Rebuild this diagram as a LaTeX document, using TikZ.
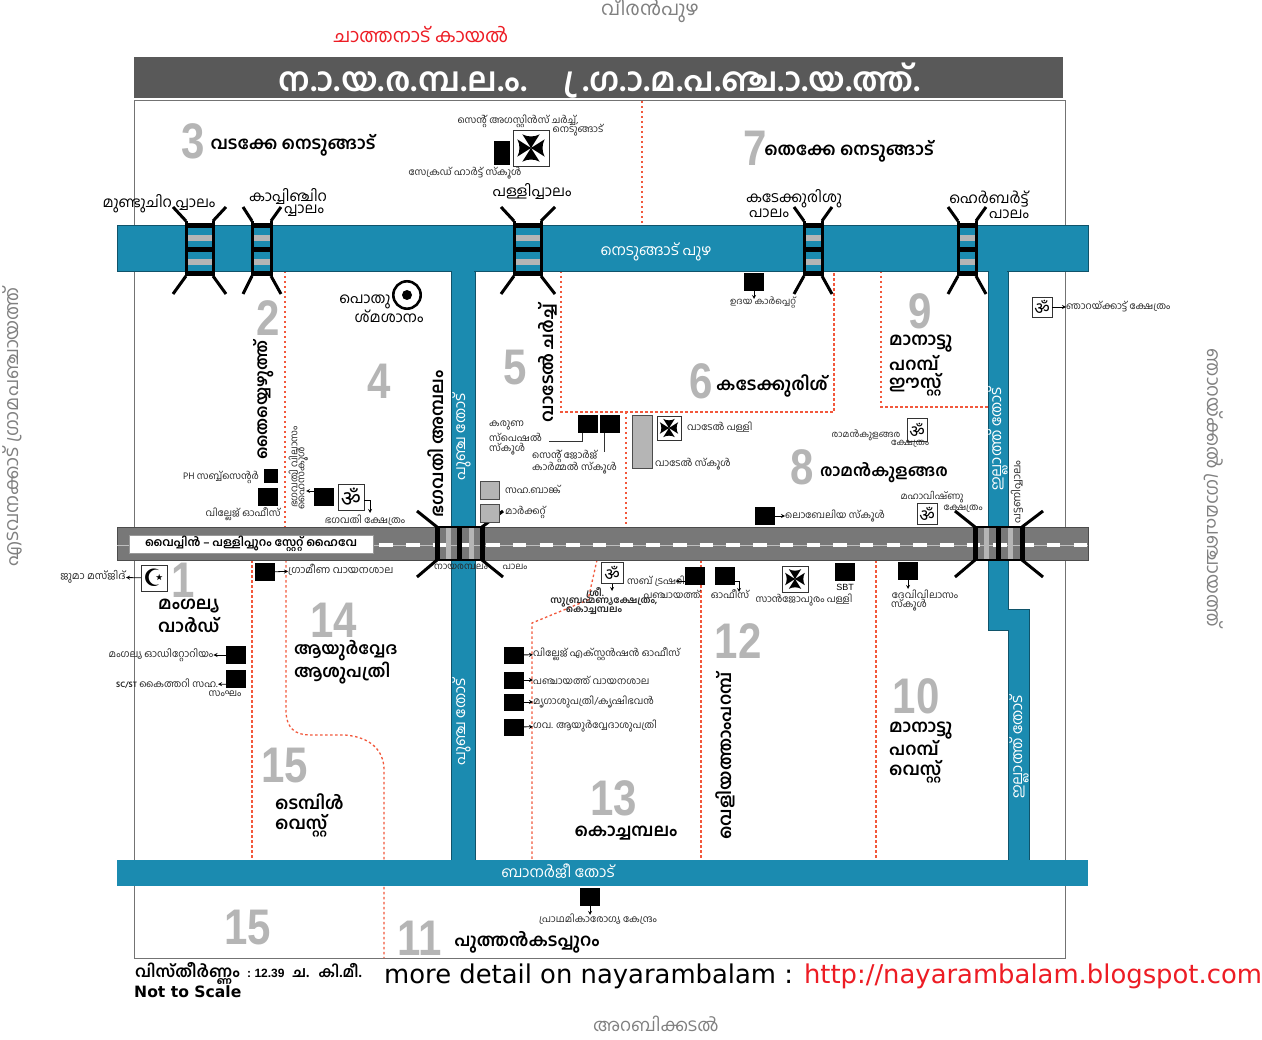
\documentclass[tikz,border=0pt]{standalone}
\usepackage{fontspec}
\newfontfamily\mlfont[Script=Malayalam]{Hind Kochi}
\newfontfamily\omfont[Script=Devanagari]{Noto Sans}
\newfontfamily\djfont{DejaVu Sans}
\newfontfamily\numfont[FakeStretch=0.84]{Liberation Sans}
\newfontfamily\latfont{Liberation Sans}
\newcommand\nbm[1]{\kern-.25em\char"00A0 #1}
\definecolor{creek}{HTML}{1B8BB0}
\definecolor{titlegray}{HTML}{595959}
\definecolor{numgray}{HTML}{B5B5B5}
\definecolor{roadgray}{HTML}{787878}
\definecolor{dotred}{HTML}{F2583C}
\definecolor{redtext}{HTML}{ED1C24}
\tikzset{
  lab/.style={font=\mlfont\fontsize{9.7}{12}\selectfont, inner sep=0pt, text=black!85},
  tiny/.style={font=\mlfont\fontsize{9.8}{11}\selectfont, inner sep=0pt, text=black!85},
  sbold/.style={font=\mlfont\bfseries\fontsize{9.5}{11}\selectfont, inner sep=0pt, text=black!85},
  brlab/.style={font=\mlfont\fontsize{14.7}{17}\selectfont, inner sep=0pt},
  ward/.style={font=\mlfont\bfseries\fontsize{17.4}{20}\selectfont, inner sep=0pt},
  wnum/.style={font=\numfont\bfseries\fontsize{50}{50}\selectfont, inner sep=0pt, text=numgray},
  wlab/.style={font=\mlfont\fontsize{15}{16}\selectfont, inner sep=0pt, text=white},
  far/.style={font=\mlfont\fontsize{18.7}{20}\selectfont, inner sep=0pt, text=gray},
  blk/.style={fill=black, inner sep=0pt, minimum width=20pt, minimum height=18pt},
  gbox/.style={fill=numgray, draw=black!70, inner sep=0pt, minimum width=19pt, minimum height=18pt},
  icon/.style={draw=black!80, fill=white, inner sep=0pt, minimum size=24pt},
  omsign/.style={icon, font=\omfont\fontsize{22}{22}\selectfont},
  omsmall/.style={icon, minimum size=20pt, font=\omfont\fontsize{17}{17}\selectfont},
  crosssign/.style={icon, minimum size=#1pt, path picture={
    \fill[black, shift={(path picture bounding box.center)}]
      (0,0) -- ({-.24*#1},{-.38*#1}) .. controls ({-.1*#1},{-.3*#1}) and ({.1*#1},{-.3*#1}) .. ({.24*#1},{-.38*#1}) -- cycle
      (0,0) -- ({-.24*#1},{.38*#1}) .. controls ({-.1*#1},{.3*#1}) and ({.1*#1},{.3*#1}) .. ({.24*#1},{.38*#1}) -- cycle
      (0,0) -- ({-.38*#1},{-.24*#1}) .. controls ({-.3*#1},{-.1*#1}) and ({-.3*#1},{.1*#1}) .. ({-.38*#1},{.24*#1}) -- cycle
      (0,0) -- ({.38*#1},{-.24*#1}) .. controls ({.3*#1},{-.1*#1}) and ({.3*#1},{.1*#1}) .. ({.38*#1},{.24*#1}) -- cycle;
    }},
  arw/.style={-stealth, thick},
  dotline/.style={dotred, line width=1.3pt, dash pattern=on 2.5pt off 2.5pt},
  brg/.style={line width=3pt, black},
}
\begin{document}
\begin{tikzpicture}[x=1pt, y=-1pt]
\useasboundingbox (0,0) rectangle (1262,1040);
\fill[white] (0,0) rectangle (1262,1040);
\node[far, font=\mlfont\fontsize{19.5}{20}\selectfont] (veeran) at (650,10) {വീരൻപുഴ};
\node[font=\mlfont\fontsize{19}{20}\selectfont, text=redtext, inner sep=0pt] (chathanad) at (421,35) {ചാത്തനാട് കായൽ};
\node[far, font=\mlfont\fontsize{17.5}{20}\selectfont] (arabi) at (656,1024) {അറബിക്കടൽ};
\node[far, rotate=90] (edavanakkad) at (12,427) {എടവനക്കാട് ഗ്രാമപഞ്ചായത്ത്};
\node[far, rotate=-90, font=\mlfont\fontsize{18.5}{20}\selectfont] (njarakkal) at (1214,488) {ഞാറയ്ക്കൽ ഗ്രാമപഞ്ചായത്ത്};

\fill[titlegray] (134,57) rectangle (1063,98);
\node[font=\mlfont\bfseries\fontsize{33}{36}\selectfont, text=white, inner sep=0pt] (title) at (600,81) {ന.\nbm{ാ}.യ.ര.മ്പ.ല.\nbm{ം}.\hspace{44pt}\nbm{്ര}.ഗ.\nbm{ാ}.മ.പ.ഞ്ച.\nbm{ാ}.യ.ത്ത്.};
\draw[black!55, line width=1pt] (134,101) rectangle (1065,958);

\draw[dotline] (642,101) -- (642,225);
\draw[dotline] (285,271) -- (285,527);
\draw[dotline] (561,271) -- (561,412) -- (834,412) -- (834,271);
\draw[dotline] (626,412) -- (626,527);
\draw[dotline] (881,271) -- (881,407) -- (988,407);
\draw[dotline] (597,560) -- (588,600) -- (532,623) -- (532,860);
\draw[dotline] (701,560) -- (701,860);
\draw[dotline] (876,560) -- (876,860);
\draw[dotline] (252,560) -- (252,860);
\draw[dotline] (286,560) -- (286,710) .. controls (286,728) and (295,735) .. (310,735) -- (345,735) .. controls (370,737) and (384,750) .. (384,770) -- (384,958);

\draw[creek!60!black, fill=creek, line width=0.6pt] (117,225) rectangle (1088,271);
\draw[creek!60!black, fill=creek, line width=0.6pt] (451,271) rectangle (475,860);
\draw[creek!60!black, fill=creek, line width=0.6pt] (988,271) -- (1008,271) -- (1008,609) -- (1029,609) -- (1029,860) -- (1008,860) -- (1008,630) -- (988,630) -- cycle;
\fill[creek] (117,860) rectangle (1088,886);
\fill[creek] (452,265) rectangle (474,275);
\fill[creek] (989,265) rectangle (1007,275);

\draw[black!70, fill=roadgray, line width=0.6pt] (117,527) rectangle (1088,560);
\draw[gray!50, line width=0.5pt] (117,545) -- (1088,545);
\draw[white, line width=3.5pt, dash pattern=on 13.5pt off 13.2pt] (139,545) -- (1088,545);

\foreach \xa/\xb/\la/\lb in {186/213/173/226, 252/271/243/281, 514/541/501/555, 804/822/794/832, 958/976/948/986} {
  \fill[numgray] (\xa,235) rectangle (\xb,241);
  \fill[numgray] (\xa,259) rectangle (\xb,265);
  \draw[brg] (\xa,221) -- (\xa,276);
  \draw[brg] (\xb,221) -- (\xb,276);
  \draw[black, line width=5pt] (\xa,226) -- (\xb,226);
  \draw[black, line width=5pt] (\xa,250) -- (\xb,250);
  \draw[black, line width=5pt] (\xa,273.5) -- (\xb,273.5);
  \draw[brg] (\xa,221) -- (\la,207);
  \draw[brg] (\xb,221) -- (\lb,207);
  \draw[brg] (\xa,276) -- (\la,294);
  \draw[brg] (\xb,276) -- (\lb,294);
}
\foreach \xa/\xb/\xc/\la/\lb in {437/459.5/482/417/503, 975/998.5/1022/955/1043} {
  \fill[numgray] ({\xa+9},528) rectangle ({\xa+14},559);
  \fill[numgray] ({\xb+9},528) rectangle ({\xb+14},559);
  \draw[black, line width=5pt] (\xa,527) -- (\xa,560);
  \draw[black, line width=5pt] (\xb,527) -- (\xb,560);
  \draw[black, line width=5pt] (\xc,527) -- (\xc,560);
  \draw[black, line width=1.5pt] (\xa,527) -- (\xc,527);
  \draw[black, line width=1.5pt] (\xa,560) -- (\xc,560);
  \draw[brg] (\xa,527) -- (\la,511);
  \draw[brg] (\xc,527) -- (\lb,511);
  \draw[brg] (\xa,560) -- (\la,577);
  \draw[brg] (\xc,560) -- (\lb,577);
}

\node[fill=white, draw=black!40, inner sep=0pt, minimum width=244pt, minimum height=18pt, font=\mlfont\bfseries\fontsize{11.5}{13}\selectfont] (highway) at (251,544) {വൈപ്പിൻ – പള്ളിപ്പുറം സ്റ്റേറ്റ് ഹൈവേ};

\node[wnum] (n3) at (193,141) {3};
\node[ward] (vadakke) at (293,145) {വടക്കേ നെടുങ്ങാട്};
\node[wnum] (n7) at (755,148) {7};
\node[ward] (thekke) at (849,151) {തെക്കേ നെടുങ്ങാട്};
\node[wnum] (n2) at (268,318) {2};
\node[ward, rotate=90, font=\mlfont\bfseries\fontsize{16.2}{20}\selectfont] (thai) at (264,400) {തൈയ്യെഴുത്ത്};
\node[wnum] (n4) at (379,381) {4};
\node[ward, rotate=90] (bhagavathi) at (436,444) {ഭഗവതി അമ്പലം};
\node[wnum] (n5) at (515,368) {5};
\node[ward, rotate=90] (vadel) at (548,363) {വാടേൽ ചർച്ച്};
\node[wnum] (n6) at (701,381) {6};
\node[ward] (kadekkurish) at (772,386) {കടേക്കുരിശ്};
\node[wnum] (n9) at (920,311) {9};
\node[ward, anchor=west] (mana) at (889,344) {മാനാട്ടു};
\node[ward, anchor=west] (parb) at (889,363) {പറമ്പ്};
\node[ward, anchor=west] (east) at (889,385) {ഈസ്റ്റ്};
\node[wnum] (n8) at (802,467) {8};
\node[ward, font=\mlfont\bfseries\fontsize{16.2}{20}\selectfont] (raman) at (884,473) {രാമൻകുളങ്ങര};
\node[wnum] (n1) at (183,580) {1};
\node[ward, anchor=west] (mangalya) at (158,606) {മംഗല്യ};
\node[ward, anchor=west] (ward) at (158,625) {വാർഡ്};
\node[wnum] (n14) at (334,620) {14};
\node[ward, anchor=west, font=\mlfont\bfseries\fontsize{16.4}{20}\selectfont] (ayur) at (294,651) {ആയുർവ്വേദ};
\node[ward, anchor=west, font=\mlfont\bfseries\fontsize{17}{20}\selectfont] (ashu) at (294,673) {ആശുപത്രി};
\node[wnum] (n15a) at (285,766) {15};
\node[ward, anchor=west] (temple) at (275,802) {ടെമ്പിൾ};
\node[ward, anchor=west] (west) at (275,826) {വെസ്റ്റ്};
\node[wnum] (n12) at (738,641) {12};
\node[ward, rotate=90] (veliyath) at (725,756) {വെളിയത്താംപറമ്പ്};
\node[wnum] (n13) at (614,798) {13};
\node[ward] (kochamb) at (626,833) {കൊച്ചമ്പലം};
\node[wnum] (n10) at (916,696) {10};
\node[ward, anchor=west] (manaw) at (889,731) {മാനാട്ടു};
\node[ward, anchor=west] (parbw) at (889,748) {പറമ്പ്};
\node[ward, anchor=west] (westw) at (889,772) {വെസ്റ്റ്};
\node[wnum] (n15b) at (248,928) {15};
\node[wnum] (n11) at (420,938) {11};
\node[ward] (puthan) at (527,942) {പുത്തൻകടപ്പുറം};

\node[brlab] (mundu) at (159,204) {മുണ്ടുചിറ പ്പാലം};
\node[brlab] (kappi) at (288,196) {കാപ്പിഞ്ചിറ};
\node[brlab] (kappib) at (304,211) {പ്പാലം};
\node[brlab] (palli) at (532,191) {പള്ളിപ്പാലം};
\node[brlab] (kadek) at (794,199) {കടേക്കുരിശു};
\node[brlab] (kadekb) at (769,213) {പാലം};
\node[brlab] (herb) at (989,199) {ഹെർബർട്ട്};
\node[brlab] (herbb) at (1009,214) {പാലം};
\node[wlab] (nedu) at (656,252) {നെടുങ്ങാട് പുഴ};
\node[wlab] (banerji) at (558,871) {ബാനർജീ തോട്};
\node[wlab, rotate=90] (punja) at (462,437) {പുഞ്ച തോട്};
\node[wlab, rotate=90] (punjab) at (462,722) {പുഞ്ച തോട്};
\node[wlab, rotate=90] (illath) at (998,439) {ഇല്ലാത്ത് തോട്};
\node[wlab, rotate=90] (illathb) at (1019,747) {ഇല്ലാത്ത് തോട്};

\node[crosssign=36] (augcross) at (531,148) {};
\node[blk, minimum width=16pt, minimum height=24pt] (sacred) at (502,153) {};
\node[lab] (aug) at (518,121) {സെന്റ് അഗസ്റ്റിൻസ് ചർച്ച്,};
\node[lab] (augb) at (578,130) {നെടുങ്ങാട്};
\node[lab] (sacredl) at (465,173) {സേക്രഡ് ഹാർട്ട് സ്കൂൾ};

\node[blk] (udaya) at (754,282) {};
\node[tiny, font=\mlfont\fontsize{9}{11}\selectfont] (udayal) at (763,303) {ഉദയ കാർപ്പെറ്റ്};
\draw[arw] (udaya) -- (754,299);
\node[omsmall] (omnjara) at (1042,307) {ॐ};
\node[lab, anchor=west] (njaral) at (1066,307) {ഞാറയ്ക്കാട്ട് ക്ഷേത്രം};
\draw[arw] (omnjara) -- (njaral);

\draw[line width=2.6pt] (407,295) circle (13.7);
\fill (407,295) circle (5);
\node[brlab] (pothu) at (365,302) {പൊതു};
\node[brlab] (shma) at (389,316) {ശ്മശാനം};

\node[blk] (karuna) at (588,424) {};
\node[blk] (george) at (610,424) {};
\node[lab, anchor=west] (karunaa) at (489,425) {കരുണ};
\node[lab, anchor=west] (karunab) at (489,437) {സ്പെഷൽ};
\node[lab, anchor=west] (karunac) at (489,449) {സ്കൂൾ};
\coordinate (karunaend) at (549,441);
\draw[thick, black!80] (karuna.south west) ++(5,0) |- (karunaend);
\node[lab, anchor=west] (georgea) at (532,456) {സെന്റ് ജോർജ്};
\node[lab, anchor=west] (georgeb) at (532,468) {കാർമ്മൽ സ്കൂൾ};
\draw[thick, black!80] (george.south west) ++(5,0) -- ++(0,19);

\node[gbox, minimum width=20pt, minimum height=53pt] (vadsch) at (642,442) {};
\node[crosssign=24] (vadcross) at (669,428) {};
\node[lab, anchor=west] (vadchurch) at (687,427) {വാടേൽ പള്ളി};
\node[lab, anchor=west] (vadschl) at (655,464) {വാടേൽ സ്കൂൾ};

\node[gbox] (bank) at (490,490) {};
\node[gbox] (market) at (490,513) {};
\node[lab, anchor=west] (bankl) at (505,489) {സഹ.ബാങ്ക്};
\node[lab, anchor=west] (marketl) at (505,512) {മാർക്കറ്റ്};

\node[omsmall, minimum height=23pt] (omraman) at (917,430) {ॐ};
\node[tiny, font=\mlfont\fontsize{9}{11}\selectfont] (ramanl) at (866,435) {രാമൻകുളങ്ങര};
\node[tiny, font=\mlfont\fontsize{9}{11}\selectfont] (ramank) at (910,444) {ക്ഷേത്രം};
\node[tiny, font=\mlfont\fontsize{9.3}{11}\selectfont] (maha) at (932,497) {മഹാവിഷ്ണു};
\node[omsmall, minimum height=21pt] (ommaha) at (927,514) {ॐ};
\node[tiny, font=\mlfont\fontsize{9.3}{11}\selectfont] (mahak) at (963,509) {ക്ഷേത്രം};
\node[blk] (lobelia) at (765,516) {};
\node[lab, anchor=west] (lobelial) at (785,516) {ലൊബേലിയ സ്കൂൾ};
\draw[arw] (lobelia) -- (lobelial);
\node[tiny, rotate=90, font=\mlfont\fontsize{10.8}{12}\selectfont] (pattani) at (1017,492) {പട്ടണിപ്പാലം};

\node[blk, minimum width=14pt, minimum height=14pt] (ph) at (271,476) {};
\node[blk] (village) at (268,497) {};
\node[lab] (phl) at (221,477) {PH സബ്ബ്സെന്റർ};
\node[lab] (villagel) at (243,514) {വില്ലേജ് ഓഫീസ്};
\node[tiny, rotate=90] (bvila) at (293,467) {ഭഗവതി വിലാസം};
\node[tiny, rotate=90] (bhigh) at (302,478) {ഹൈസ്കൂൾ};
\node[blk] (bhs) at (324,497) {};
\coordinate (bhsend) at (306,491);
\draw[arw] (bhs.west) ++(0,-6) -- (bhsend);
\node[omsign, minimum size=26pt] (ombhag) at (351,497) {ॐ};
\coordinate (ombend) at (370,513);
\draw[arw] (ombhag.east) ++(0,3) -| (ombend);
\node[lab] (bhagk) at (365,520) {ഭഗവതി ക്ഷേത്രം};

\node[tiny, font=\mlfont\fontsize{9.2}{11}\selectfont] (nayaram) at (461,567) {നായരമ്പലം};
\node[tiny, font=\mlfont\fontsize{9.2}{11}\selectfont] (nayarpalam) at (515,567) {പാലം};

\node[tiny, font=\mlfont\fontsize{10.3}{11}\selectfont] (juma) at (93,577) {ജുമാ മസ്ജിദ്};
\node[icon, minimum size=26pt, font=\djfont\fontsize{24}{24}\selectfont] (crescent) at (154,578) {☪};
\draw[arw] (crescent) -- (juma);
\node[blk] (gramin) at (265,572) {};
\node[tiny, font=\mlfont\fontsize{10.3}{11}\selectfont, anchor=west] (graminl) at (288,570) {ഗ്രാമീണ വായനശാല};
\draw[arw] (gramin) -- (graminl);
\node[blk] (audi) at (236,655) {};
\node[tiny, font=\mlfont\fontsize{10}{11}\selectfont] (audil) at (161,655) {മംഗല്യ ഓഡിറ്റോറിയം};
\draw[arw] (audi) -- (audil);
\node[blk] (handloom) at (236,679) {};
\node[tiny, anchor=east] (handl) at (218,684) {\textbf{\fontsize{8}{10}\selectfont SC/ST} കൈത്തറി സഹ.};
\node[tiny] (handb) at (225,694) {സംഘം};
\draw[arw] (handloom.south west) ++(0,-4) -- (handl);

\node[omsmall, minimum width=22pt, minimum height=21pt] (omsub) at (612,573) {ॐ};
\node[sbold] (sria) at (595,593) {ശ്രീ.};
\node[sbold] (srib) at (604,602) {സുബ്രഹ്മണ്യക്ഷേത്രം,};
\node[sbold] (sric) at (594,611) {കൊച്ചമ്പലം};
\coordinate (omsubend) at (612,591);
\draw[arw] (omsub) -- (omsubend);
\node[blk] (treasury) at (695,576) {};
\node[lab, anchor=east] (treasuryl) at (685,581) {സബ് ട്രഷറി};
\draw[arw] (treasury.south west) ++(0,-4) -- ++(-9,0);
\node[blk] (office) at (725,576) {};
\coordinate (officeend) at (739,592);
\draw[arw] (office.east) ++(-2,5) -| (officeend);
\node[lab] (panch) at (672,594) {പഞ്ചായത്ത്};
\node[lab] (ofc) at (730,594) {ഓഫീസ്};
\node[crosssign=26] (sanjo) at (795,579) {};
\node[lab] (sanjol) at (804,600) {സാൻജോപുരം പള്ളി};
\node[blk] (sbt) at (845,572) {};
\node[inner sep=0pt, font=\latfont\fontsize{9}{11}\selectfont] (sbtl) at (845,587) {SBT};
\node[blk] (devi) at (908,571) {};
\node[lab] (devil) at (925,594) {ദേവിവിലാസം};
\node[lab] (devis) at (909,605) {സ്കൂൾ};
\coordinate (deviend) at (908,589);
\draw[arw] (devi) -- (deviend);

\node[blk, minimum height=17pt] (extn) at (514,655) {};
\node[lab, anchor=west] (extnl) at (533,654) {വില്ലേജ് എക്സ്റ്റൻഷൻ ഓഫീസ്};
\draw[arw] (extn) -- (extnl);
\node[blk, minimum height=17pt] (vayana) at (514,680) {};
\node[lab, anchor=west] (vayanal) at (533,680) {പഞ്ചായത്ത് വായനശാല};
\draw[arw] (vayana) -- (vayanal);
\node[blk, minimum height=17pt] (mriga) at (514,702) {};
\node[lab, anchor=west] (mrigal) at (533,702) {മൃഗാശുപത്രി/കൃഷിഭവൻ};
\draw[arw] (mriga) -- (mrigal);
\node[blk, minimum height=17pt] (govayur) at (514,727) {};
\node[lab, anchor=west] (govayurl) at (533,726) {ഗവ. ആയുർവ്വേദാശുപത്രി};
\draw[arw] (govayur) -- (govayurl);

\node[blk] (phc) at (590,897) {};
\node[tiny] (phcl) at (598,919) {പ്രാഥമികാരോഗ്യ കേന്ദ്രം};
\coordinate (phcend) at (590,915);
\draw[arw] (phc) -- (phcend);

\node[font=\mlfont\bfseries\fontsize{16}{18}\selectfont, inner sep=0pt, anchor=west] (area) at (135,973) {വിസ്തീർണ്ണം {\latfont\fontsize{12}{13}\selectfont\ :\ 12.39}\hspace{8pt}{\fontsize{15}{16}\selectfont ച.\hspace{9pt}കി.മീ.}};
\node[font=\djfont\bfseries\fontsize{15.6}{17}\selectfont, inner sep=0pt, anchor=west] (scale) at (134,992) {Not to Scale};
\node[font=\djfont\fontsize{25.85}{28}\selectfont, inner sep=0pt, anchor=west] (detail) at (384,976) {more detail on nayarambalam : \textcolor{redtext}{http://nayarambalam.blogspot.com}};
\end{tikzpicture}
\end{document}
